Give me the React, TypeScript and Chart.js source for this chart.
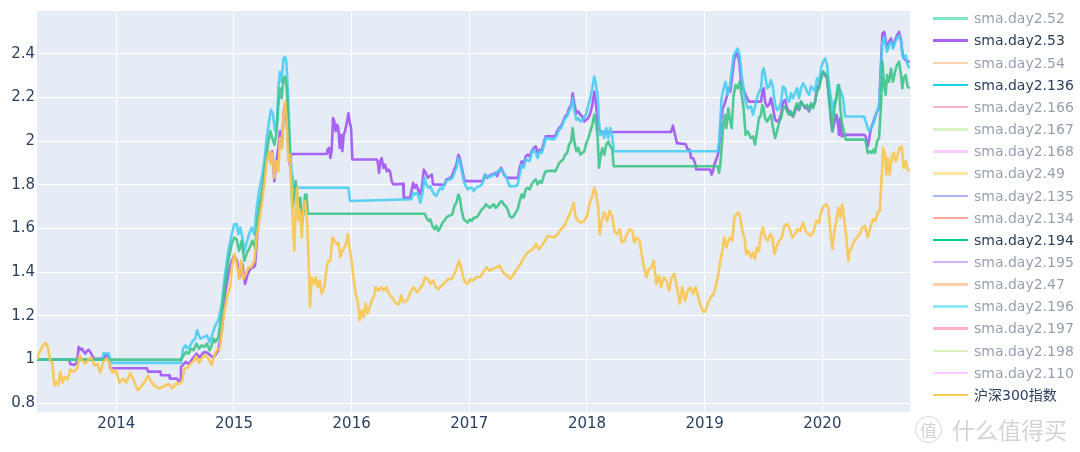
import React, { useEffect, useRef } from "react";
import { Chart, registerables } from "chart.js";

Chart.register(...registerables);

// x values are decimal years, y values are normalised net value
const hs300: [number, number][] = [
  [2013.326,1.0],[2013.349,1.035],[2013.377,1.065],[2013.397,1.076],[2013.417,1.06],[2013.439,0.994],[2013.456,0.985],[2013.473,0.883],[2013.490,0.898],[2013.507,0.883],[2013.524,0.944],[2013.541,0.894],[2013.564,0.921],[2013.587,0.909],[2013.609,0.954],[2013.638,0.944],[2013.666,0.959],[2013.689,1.02],[2013.711,0.994],[2013.740,0.982],[2013.768,1.004],[2013.788,1.009],[2013.813,0.973],[2013.836,0.982],[2013.864,0.939],[2013.887,0.989],[2013.921,1.004],[2013.944,0.982],[2013.966,0.939],[2013.995,0.951],[2014.028,0.894],[2014.057,0.913],[2014.085,0.894],[2014.119,0.939],[2014.148,0.906],[2014.182,0.86],[2014.210,0.876],[2014.238,0.894],[2014.269,0.927],[2014.301,0.894],[2014.334,0.876],[2014.368,0.868],[2014.408,0.879],[2014.448,0.888],[2014.476,0.868],[2014.510,0.891],[2014.539,0.888],[2014.561,0.906],[2014.578,0.959],[2014.606,0.964],[2014.635,0.982],[2014.658,0.994],[2014.677,1.015],[2014.703,0.985],[2014.731,1.009],[2014.759,1.02],[2014.788,1.0],[2014.810,0.974],[2014.833,1.02],
  [2014.853,1.043],[2014.881,1.05],[2014.901,1.149],[2014.924,1.24],[2014.947,1.30],[2014.966,1.33],[2014.986,1.437],[2015.003,1.483],[2015.023,1.437],[2015.043,1.369],[2015.060,1.452],[2015.080,1.369],[2015.100,1.392],[2015.122,1.422],[2015.145,1.422],[2015.173,1.452],[2015.193,1.559],[2015.213,1.635],[2015.236,1.711],[2015.258,1.802],[2015.278,1.908],[2015.298,1.954],[2015.315,1.893],[2015.326,1.947],[2015.343,1.832],[2015.360,1.908],[2015.377,1.862],[2015.391,2.014],[2015.406,1.969],[2015.423,2.136],[2015.434,2.181],[2015.448,2.09],[2015.462,1.908],[2015.476,1.938],[2015.491,1.756],[2015.502,1.589],[2015.513,1.498],[2015.525,1.695],[2015.536,1.787],[2015.547,1.635],[2015.561,1.68],[2015.576,1.559],[2015.590,1.695],[2015.604,1.726],[2015.618,1.665],[2015.632,1.483],[2015.646,1.24],[2015.660,1.377],[2015.678,1.346],[2015.694,1.377],[2015.712,1.331],[2015.729,1.362],[2015.745,1.301],[2015.768,1.331],[2015.788,1.422],[2015.802,1.452],[2015.819,1.452],[2015.836,1.559],[2015.853,1.544],[2015.870,1.529],[2015.887,1.536],[2015.904,1.468],[2015.921,1.498],[2015.938,1.513],[2015.955,1.536],[2015.966,1.574],[2015.983,1.513],[2016.000,1.452],[2016.018,1.362],[2016.034,1.301],[2016.051,1.27],[2016.068,1.179],[2016.085,1.225],[2016.102,1.194],[2016.119,1.255],[2016.136,1.21],[2016.153,1.24],[2016.170,1.27],[2016.187,1.286],[2016.204,1.331],[2016.227,1.316],[2016.250,1.331],[2016.272,1.316],[2016.295,1.331],[2016.318,1.301],[2016.340,1.286],
  [2016.352,1.278],[2016.380,1.255],[2016.403,1.255],[2016.420,1.293],[2016.443,1.263],[2016.471,1.27],[2016.499,1.308],[2016.528,1.331],[2016.556,1.308],[2016.579,1.323],[2016.607,1.346],[2016.624,1.377],[2016.647,1.369],[2016.669,1.346],[2016.692,1.362],[2016.715,1.331],[2016.737,1.323],[2016.766,1.339],[2016.794,1.354],[2016.822,1.369],[2016.851,1.369],[2016.873,1.392],[2016.896,1.422],[2016.913,1.453],[2016.930,1.422],[2016.947,1.377],[2016.964,1.354],[2016.987,1.346],[2017.009,1.369],[2017.032,1.362],[2017.060,1.377],[2017.089,1.377],[2017.117,1.399],[2017.145,1.422],[2017.174,1.407],[2017.202,1.415],[2017.230,1.422],[2017.258,1.43],[2017.287,1.399],[2017.321,1.384],[2017.349,1.369],[2017.377,1.392],[2017.406,1.415],[2017.434,1.437],[2017.457,1.46],[2017.485,1.483],[2017.513,1.498],[2017.542,1.506],[2017.565,1.529],[2017.593,1.506],[2017.615,1.521],[2017.644,1.544],[2017.666,1.566],[2017.695,1.562],[2017.723,1.559],[2017.751,1.574],[2017.780,1.597],[2017.808,1.612],[2017.825,1.635],[2017.853,1.665],
  [2017.870,1.69],[2017.887,1.718],[2017.904,1.65],[2017.926,1.635],[2017.949,1.627],[2017.977,1.635],[2018.000,1.657],[2018.023,1.718],[2018.045,1.749],[2018.062,1.787],[2018.079,1.756],[2018.096,1.695],[2018.108,1.574],[2018.125,1.635],[2018.147,1.673],[2018.170,1.635],[2018.193,1.68],[2018.215,1.657],[2018.232,1.589],[2018.255,1.574],[2018.278,1.597],[2018.295,1.536],[2018.317,1.544],[2018.340,1.574],[2018.363,1.597],[2018.385,1.589],[2018.402,1.536],[2018.425,1.559],[2018.448,1.544],[2018.465,1.483],[2018.482,1.43],[2018.504,1.377],[2018.527,1.415],[2018.550,1.422],[2018.567,1.452],[2018.589,1.346],[2018.612,1.384],[2018.629,1.331],[2018.652,1.377],[2018.674,1.362],[2018.697,1.316],[2018.719,1.377],[2018.742,1.392],[2018.765,1.331],[2018.788,1.255],[2018.810,1.331],[2018.833,1.27],[2018.856,1.316],[2018.878,1.331],[2018.901,1.301],[2018.924,1.331],[2018.946,1.286],[2018.969,1.24],[2018.992,1.217],[2019.008,1.225],[2019.031,1.263],[2019.054,1.286],[2019.077,1.301],[2019.099,1.346],[2019.116,1.392],[2019.133,1.453],[2019.150,1.498],[2019.167,1.559],[2019.184,1.513],[2019.201,1.544],[2019.218,1.559],[2019.235,1.544],[2019.252,1.65],[2019.269,1.665],[2019.286,1.673],[2019.303,1.65],[2019.320,1.589],[2019.337,1.559],[2019.354,1.483],[2019.371,1.498],
  [2019.394,1.468],[2019.411,1.491],[2019.428,1.46],[2019.445,1.513],[2019.462,1.498],[2019.479,1.574],[2019.496,1.604],[2019.513,1.559],[2019.536,1.544],[2019.558,1.574],[2019.575,1.559],[2019.592,1.483],[2019.609,1.513],[2019.632,1.544],[2019.655,1.559],[2019.677,1.612],[2019.700,1.62],[2019.723,1.597],[2019.745,1.559],[2019.768,1.574],[2019.791,1.597],[2019.813,1.589],[2019.836,1.627],[2019.859,1.589],[2019.881,1.574],[2019.904,1.567],[2019.927,1.589],[2019.949,1.635],[2019.972,1.627],[2019.989,1.673],[2020.011,1.703],[2020.034,1.711],[2020.051,1.695],[2020.068,1.589],[2020.085,1.506],[2020.102,1.589],[2020.119,1.635],[2020.136,1.695],[2020.153,1.65],[2020.170,1.711],[2020.187,1.635],[2020.204,1.559],[2020.221,1.453],[2020.232,1.498],[2020.249,1.513],[2020.272,1.544],[2020.295,1.559],[2020.317,1.574],[2020.340,1.604],[2020.363,1.612],[2020.385,1.559],[2020.408,1.604],[2020.431,1.642],[2020.453,1.635],[2020.470,1.673],[2020.487,1.68],[2020.504,1.832],[2020.516,1.969],[2020.533,1.938],[2020.544,1.847],[2020.555,1.923],[2020.572,1.847],[2020.589,1.923],[2020.606,1.947],[2020.623,1.908],[2020.640,1.938],[2020.657,1.969],[2020.674,1.976],[2020.691,1.878],[2020.708,1.908],[2020.725,1.87],[2020.742,1.862]
];

const sma53: [number, number][] = [
  [2013.326,1.0],[2013.600,1.0],[2013.609,0.98],[2013.640,0.975],[2013.666,0.985],[2013.680,1.058],[2013.694,1.045],[2013.708,1.05],[2013.723,1.035],[2013.737,1.027],[2013.751,1.04],[2013.765,1.045],[2013.779,1.035],[2013.793,1.02],[2013.810,1.004],[2013.893,1.004],[2013.907,1.025],[2013.921,1.015],[2013.935,1.008],[2013.950,0.96],[2014.261,0.96],[2014.270,0.945],[2014.374,0.945],[2014.380,0.928],[2014.450,0.928],[2014.455,0.913],[2014.516,0.913],[2014.525,0.903],[2014.548,0.903],
  [2014.550,0.967],[2014.590,0.99],[2014.615,0.98],[2014.635,0.995],[2014.657,1.01],[2014.680,1.027],[2014.708,1.01],[2014.731,1.027],[2014.754,1.035],[2014.776,1.03],[2014.799,1.02],[2014.822,1.01],[2014.839,1.02],
  [2014.867,1.043],[2014.896,1.134],[2014.924,1.301],[2014.952,1.392],[2014.981,1.452],[2015.003,1.475],[2015.026,1.452],[2015.049,1.377],[2015.071,1.437],[2015.094,1.346],[2015.117,1.392],[2015.139,1.415],[2015.162,1.422],[2015.179,1.43],[2015.202,1.604],[2015.224,1.695],[2015.247,1.787],[2015.270,1.908],[2015.292,1.954],[2015.309,1.908],[2015.326,1.954],[2015.343,1.817],[2015.360,1.908],[2015.377,1.969],[2015.391,2.045],[2015.406,1.969],[2015.423,2.136],[2015.434,2.166],[2015.448,2.09],[2015.462,1.969],[2015.474,1.893],[2015.485,1.938],[2015.496,1.941],[2015.788,1.941],[2015.796,1.961],[2015.808,1.969],[2015.819,1.923],[2015.830,1.954],[2015.842,2.106],[2015.853,2.09],[2015.864,2.045],[2015.876,2.075],[2015.887,2.06],[2015.898,1.969],[2015.910,2.029],[2015.921,1.954],[2015.932,2.029],[2015.944,2.045],[2015.961,2.09],[2015.972,2.128],[2015.983,2.09],[2015.995,2.06],[2016.006,1.916],[2016.213,1.916],[2016.221,1.908],[2016.233,1.855],[2016.244,1.908],[2016.255,1.923],[2016.270,1.878],[2016.284,1.893],[2016.298,1.862],[2016.312,1.87],[2016.326,1.862],[2016.340,1.817],[2016.355,1.802],
  [2016.437,1.805],[2016.443,1.741],[2016.494,1.741],[2016.508,1.771],[2016.522,1.809],[2016.536,1.786],[2016.550,1.80],[2016.564,1.779],[2016.579,1.756],[2016.596,1.786],[2016.613,1.87],[2016.630,1.855],[2016.647,1.832],[2016.664,1.84],[2016.681,1.847],[2016.692,1.802],[2016.791,1.80],[2016.805,1.825],[2016.839,1.832],[2016.856,1.847],[2016.873,1.87],[2016.890,1.893],[2016.907,1.938],[2016.919,1.923],[2016.936,1.878],[2016.953,1.832],[2016.964,1.817],[2017.117,1.817],[2017.134,1.847],[2017.151,1.832],[2017.168,1.84],[2017.185,1.847],[2017.202,1.847],[2017.219,1.855],[2017.236,1.84],[2017.253,1.862],[2017.270,1.878],[2017.287,1.855],[2017.304,1.84],[2017.321,1.832],[2017.414,1.832],[2017.428,1.878],[2017.445,1.908],[2017.462,1.893],[2017.479,1.93],[2017.496,1.938],[2017.513,1.93],[2017.530,1.954],[2017.547,1.969],[2017.564,1.976],[2017.581,1.946],[2017.598,1.961],[2017.615,1.954],[2017.632,1.991],[2017.649,2.022],[2017.729,2.022],[2017.746,2.045],[2017.763,2.06],[2017.780,2.068],[2017.797,2.09],[2017.814,2.113],[2017.831,2.121],[2017.848,2.151],[2017.865,2.166],
  [2017.878,2.219],[2017.892,2.174],[2017.909,2.128],[2017.926,2.136],[2017.943,2.121],[2017.960,2.113],[2017.977,2.09],[2017.994,2.098],[2018.011,2.106],[2018.028,2.128],[2018.045,2.166],[2018.062,2.227],[2018.074,2.181],[2018.085,2.121],[2018.096,2.075],[2018.108,2.045],[2018.119,2.042],[2018.714,2.042],[2018.731,2.071],[2018.748,2.029],[2018.765,1.991],[2018.839,1.986],[2018.856,1.961],[2018.873,1.961],[2018.884,1.923],[2018.901,1.923],[2018.918,1.90],[2018.929,1.87],[2019.048,1.87],[2019.059,1.847],[2019.071,1.862],[2019.082,1.893],[2019.099,1.916],[2019.116,1.946],[2019.127,1.999],[2019.139,2.09],[2019.153,2.151],[2019.167,2.166],[2019.184,2.197],[2019.201,2.242],[2019.218,2.227],[2019.235,2.303],[2019.252,2.379],[2019.269,2.402],[2019.280,2.394],[2019.295,2.364],[2019.309,2.272],[2019.326,2.242],[2019.343,2.219],[2019.360,2.197],[2019.377,2.181],
  [2019.479,2.181],[2019.490,2.227],[2019.502,2.242],[2019.513,2.181],[2019.530,2.159],[2019.547,2.166],[2019.564,2.197],[2019.581,2.151],[2019.598,2.098],[2019.615,2.09],[2019.632,2.098],[2019.649,2.121],[2019.666,2.181],[2019.683,2.189],[2019.700,2.151],[2019.717,2.136],[2019.734,2.121],[2019.751,2.113],[2019.768,2.136],[2019.785,2.166],[2019.802,2.143],[2019.819,2.181],[2019.836,2.166],[2019.853,2.151],[2019.870,2.159],[2019.887,2.136],[2019.904,2.166],[2019.921,2.159],[2019.938,2.181],[2019.955,2.242],[2019.972,2.257],[2019.989,2.288],[2020.006,2.318],[2020.023,2.303],[2020.040,2.288],[2020.057,2.197],[2020.074,2.09],[2020.085,2.045],[2020.102,2.083],[2020.119,2.121],[2020.131,2.09],[2020.142,2.029],[2020.153,2.106],[2020.165,2.022],[2020.193,2.029],[2020.354,2.029],[2020.369,2.022],[2020.385,1.976],[2020.397,2.007],[2020.414,2.06],[2020.431,2.083],[2020.448,2.113],[2020.465,2.136],[2020.482,2.151],[2020.499,2.364],[2020.510,2.493],[2020.527,2.50],[2020.538,2.462],[2020.550,2.424],[2020.567,2.455],[2020.584,2.470],[2020.601,2.432],[2020.618,2.462],[2020.635,2.485],[2020.652,2.50],[2020.669,2.462],[2020.680,2.409],[2020.691,2.379],[2020.708,2.371],[2020.725,2.364],[2020.742,2.364]
];

const sma136: [number, number][] = [
  [2013.326,1.0],[2013.880,1.0],[2013.893,1.03],[2013.910,1.025],[2013.935,1.03],[2013.952,0.985],[2014.550,0.985],
  [2014.567,1.05],[2014.587,1.065],[2014.606,1.05],[2014.629,1.065],[2014.652,1.088],[2014.672,1.096],[2014.686,1.134],[2014.714,1.096],[2014.743,1.103],[2014.771,1.111],[2014.793,1.08],[2014.822,1.126],[2014.842,1.156],
  [2014.867,1.179],[2014.896,1.255],[2014.924,1.392],[2014.952,1.498],[2014.981,1.574],[2015.003,1.62],[2015.023,1.62],[2015.037,1.574],[2015.054,1.604],[2015.071,1.559],[2015.088,1.498],[2015.108,1.536],[2015.128,1.574],[2015.151,1.604],[2015.173,1.574],[2015.193,1.695],[2015.213,1.771],[2015.236,1.832],[2015.258,1.908],[2015.278,2.014],[2015.298,2.09],[2015.315,2.144],[2015.332,2.121],[2015.349,2.045],[2015.366,2.09],[2015.377,2.242],[2015.391,2.318],[2015.406,2.272],[2015.420,2.379],[2015.434,2.386],[2015.445,2.364],[2015.457,2.242],[2015.468,2.09],[2015.479,1.938],[2015.491,1.862],[2015.502,1.817],[2015.513,1.787],[2015.972,1.787],[2015.986,1.726],
  [2016.508,1.734],[2016.522,1.764],[2016.539,1.756],[2016.556,1.764],[2016.573,1.741],[2016.584,1.718],[2016.601,1.756],[2016.618,1.832],[2016.635,1.802],[2016.652,1.786],[2016.669,1.794],[2016.686,1.771],[2016.703,1.756],[2016.720,1.749],[2016.737,1.771],[2016.754,1.786],[2016.771,1.779],[2016.788,1.802],[2016.805,1.817],[2016.822,1.825],[2016.839,1.825],[2016.856,1.832],[2016.873,1.855],[2016.890,1.878],[2016.907,1.923],[2016.919,1.908],[2016.936,1.862],[2016.953,1.817],[2016.970,1.794],[2016.987,1.779],[2017.004,1.787],[2017.021,1.787],[2017.038,1.771],[2017.055,1.786],[2017.072,1.79],[2017.089,1.794],[2017.106,1.802],[2017.123,1.832],[2017.140,1.847],[2017.157,1.832],[2017.174,1.84],[2017.191,1.84],[2017.208,1.847],[2017.225,1.85],[2017.242,1.862],[2017.258,1.87],[2017.275,1.87],[2017.292,1.855],[2017.309,1.84],[2017.326,1.817],[2017.343,1.794],[2017.394,1.794],[2017.411,1.802],[2017.428,1.847],[2017.445,1.893],[2017.462,1.878],[2017.479,1.916],[2017.513,1.908],[2017.530,1.946],[2017.547,1.961],[2017.564,1.946],[2017.581,1.923],[2017.598,1.954],[2017.615,1.946],[2017.632,1.976],[2017.649,2.014],[2017.717,2.007],[2017.729,2.014],[2017.746,2.029],[2017.763,2.052],[2017.780,2.06],[2017.797,2.083],[2017.814,2.106],[2017.831,2.113],[2017.848,2.136],[2017.865,2.159],
  [2017.878,2.197],[2017.892,2.143],[2017.909,2.098],[2017.926,2.106],[2017.943,2.09],[2017.960,2.098],[2017.977,2.106],[2017.994,2.128],[2018.011,2.166],[2018.028,2.197],[2018.045,2.242],[2018.062,2.296],[2018.074,2.265],[2018.091,2.212],[2018.102,2.09],[2018.113,2.029],[2018.130,2.045],[2018.147,2.014],[2018.164,2.06],[2018.181,2.014],[2018.198,2.06],[2018.215,2.022],[2018.227,1.954],[2019.110,1.954],[2019.122,1.999],[2019.133,2.09],[2019.144,2.197],[2019.161,2.242],[2019.178,2.272],[2019.195,2.212],[2019.212,2.242],[2019.229,2.318],[2019.246,2.394],[2019.263,2.409],[2019.280,2.424],[2019.297,2.394],[2019.314,2.303],[2019.331,2.242],[2019.348,2.181],[2019.365,2.151],
  [2019.394,2.159],[2019.411,2.121],[2019.428,2.159],[2019.445,2.197],[2019.462,2.227],[2019.479,2.242],[2019.490,2.318],[2019.502,2.333],[2019.513,2.303],[2019.530,2.242],[2019.547,2.25],[2019.564,2.28],[2019.581,2.242],[2019.598,2.166],[2019.615,2.143],[2019.632,2.151],[2019.649,2.181],[2019.666,2.25],[2019.683,2.242],[2019.700,2.197],[2019.717,2.181],[2019.734,2.219],[2019.751,2.197],[2019.768,2.219],[2019.785,2.242],[2019.802,2.197],[2019.819,2.242],[2019.836,2.265],[2019.853,2.25],[2019.870,2.227],[2019.887,2.212],[2019.904,2.25],[2019.921,2.242],[2019.938,2.227],[2019.955,2.288],[2019.972,2.272],[2019.989,2.333],[2020.006,2.364],[2020.023,2.379],[2020.040,2.349],[2020.057,2.257],[2020.074,2.197],[2020.085,2.121],[2020.102,2.181],[2020.119,2.197],[2020.131,2.257],[2020.142,2.242],[2020.159,2.227],[2020.176,2.197],[2020.193,2.113],[2020.354,2.113],[2020.369,2.09],[2020.385,2.06],[2020.397,2.045],[2020.414,2.06],[2020.431,2.075],[2020.448,2.106],[2020.465,2.136],[2020.482,2.166],[2020.499,2.318],[2020.510,2.455],[2020.527,2.477],[2020.538,2.44],[2020.550,2.409],[2020.567,2.44],[2020.584,2.455],[2020.601,2.424],[2020.618,2.455],[2020.635,2.47],[2020.652,2.485],[2020.669,2.455],[2020.680,2.394],[2020.691,2.379],[2020.708,2.394],[2020.725,2.349],[2020.742,2.333]
];

const sma194: [number, number][] = [
  [2013.326,1.0],[2014.550,1.0],[2014.572,1.02],[2014.595,1.035],[2014.615,1.027],[2014.635,1.05],[2014.657,1.043],[2014.680,1.073],[2014.703,1.05],[2014.725,1.065],[2014.748,1.058],[2014.771,1.073],[2014.793,1.043],[2014.810,1.065],[2014.827,1.096],[2014.842,1.08],
  [2014.867,1.103],[2014.896,1.21],[2014.924,1.346],[2014.952,1.452],[2014.981,1.529],[2015.003,1.559],[2015.023,1.551],[2015.043,1.498],[2015.066,1.544],[2015.088,1.452],[2015.111,1.49],[2015.134,1.513],[2015.156,1.544],[2015.179,1.513],[2015.202,1.65],[2015.224,1.726],[2015.247,1.802],[2015.270,1.908],[2015.292,1.999],[2015.309,2.045],[2015.326,2.014],[2015.343,1.984],[2015.360,2.029],[2015.377,2.166],[2015.391,2.242],[2015.406,2.197],[2015.420,2.288],[2015.434,2.296],[2015.448,2.242],[2015.462,2.09],[2015.479,1.908],[2015.496,1.695],[2015.513,1.756],[2015.525,1.817],[2015.536,1.756],[2015.547,1.695],[2015.564,1.741],[2015.581,1.635],[2015.593,1.68],[2015.604,1.756],[2015.615,1.756],[2015.627,1.668],
  [2016.621,1.668],[2016.635,1.65],[2016.652,1.635],[2016.669,1.642],[2016.686,1.612],[2016.703,1.597],[2016.720,1.612],[2016.737,1.589],[2016.754,1.604],[2016.771,1.627],[2016.788,1.635],[2016.805,1.65],[2016.822,1.657],[2016.856,1.665],[2016.873,1.703],[2016.890,1.718],[2016.907,1.756],[2016.919,1.741],[2016.936,1.68],[2016.953,1.642],[2016.970,1.635],[2016.987,1.627],[2017.004,1.642],[2017.021,1.635],[2017.038,1.65],[2017.055,1.65],[2017.072,1.657],[2017.089,1.673],[2017.106,1.688],[2017.123,1.695],[2017.140,1.711],[2017.157,1.703],[2017.174,1.695],[2017.191,1.703],[2017.208,1.711],[2017.225,1.695],[2017.242,1.703],[2017.258,1.718],[2017.275,1.726],[2017.292,1.711],[2017.309,1.703],[2017.326,1.688],[2017.343,1.657],[2017.360,1.65],[2017.377,1.657],[2017.394,1.673],[2017.411,1.688],[2017.428,1.726],[2017.445,1.756],[2017.462,1.741],[2017.479,1.779],[2017.496,1.787],[2017.513,1.779],[2017.530,1.802],[2017.547,1.817],[2017.564,1.825],[2017.581,1.802],[2017.598,1.817],[2017.615,1.809],[2017.632,1.84],[2017.649,1.862],[2017.706,1.865],[2017.729,1.862],[2017.746,1.878],[2017.763,1.90],[2017.780,1.908],[2017.797,1.916],[2017.814,1.938],[2017.831,1.946],[2017.848,1.984],[2017.865,1.999],
  [2017.878,2.06],[2017.892,1.999],[2017.909,1.954],[2017.926,1.969],[2017.943,1.938],[2017.960,1.946],[2017.977,1.954],[2017.994,1.991],[2018.011,2.014],[2018.028,2.045],[2018.045,2.075],[2018.062,2.121],[2018.079,2.075],[2018.091,2.014],[2018.102,1.878],[2018.113,1.923],[2018.130,1.969],[2018.147,1.938],[2018.164,1.984],[2018.181,1.999],[2018.198,1.976],[2018.215,1.961],[2018.227,1.885],[2019.110,1.885],[2019.122,1.855],[2019.133,1.893],[2019.144,1.969],[2019.156,2.06],[2019.173,2.121],[2019.184,2.06],[2019.201,2.151],[2019.212,2.106],[2019.229,2.06],[2019.246,2.212],[2019.263,2.257],[2019.280,2.242],[2019.297,2.272],[2019.314,2.212],[2019.331,2.151],[2019.348,2.029],[2019.365,2.045],
  [2019.394,2.014],[2019.411,2.022],[2019.428,1.984],[2019.445,2.045],[2019.462,2.106],[2019.479,2.121],[2019.490,2.166],[2019.502,2.151],[2019.513,2.106],[2019.530,2.09],[2019.547,2.106],[2019.564,2.121],[2019.581,2.06],[2019.598,2.014],[2019.615,2.045],[2019.632,2.083],[2019.649,2.106],[2019.666,2.151],[2019.683,2.159],[2019.700,2.136],[2019.717,2.121],[2019.734,2.136],[2019.751,2.113],[2019.768,2.151],[2019.785,2.174],[2019.802,2.143],[2019.819,2.181],[2019.836,2.166],[2019.853,2.159],[2019.870,2.166],[2019.887,2.143],[2019.904,2.174],[2019.921,2.151],[2019.938,2.181],[2019.955,2.227],[2019.972,2.242],[2019.989,2.288],[2020.006,2.318],[2020.023,2.311],[2020.040,2.296],[2020.057,2.197],[2020.074,2.106],[2020.085,2.045],[2020.102,2.151],[2020.119,2.197],[2020.131,2.242],[2020.142,2.257],[2020.153,2.151],[2020.165,2.09],[2020.182,2.045],[2020.199,2.007],[2020.354,2.007],[2020.369,1.999],[2020.385,1.946],[2020.402,1.954],[2020.419,1.946],[2020.436,1.961],[2020.448,1.946],[2020.465,1.999],[2020.482,2.014],[2020.499,2.166],[2020.510,2.364],[2020.527,2.242],[2020.538,2.212],[2020.550,2.303],[2020.567,2.272],[2020.584,2.333],[2020.601,2.272],[2020.618,2.318],[2020.635,2.349],[2020.652,2.364],[2020.669,2.303],[2020.680,2.242],[2020.691,2.288],[2020.708,2.303],[2020.725,2.25],[2020.742,2.242]
];

const legendNames = [
  "sma.day2.52","sma.day2.53","sma.day2.54","sma.day2.136","sma.day2.166","sma.day2.167",
  "sma.day2.168","sma.day2.49","sma.day2.135","sma.day2.134","sma.day2.194","sma.day2.195",
  "sma.day2.47","sma.day2.196","sma.day2.197","sma.day2.198","sma.day2.110","沪深300指数"
];
const legendVisible = ["sma.day2.53","sma.day2.136","sma.day2.194","沪深300指数"];
const palette = ["#636efa","#EF553B","#00cc96","#ab63fa","#FFA15A","#19d3f3","#FF6692","#B6E880","#FF97FF","#FECB52"];

const xTicks = [2014, 2015, 2016, 2017, 2018, 2019, 2020];
const yTicks = [0.8, 1.0, 1.2, 1.4, 1.6, 1.8, 2.0, 2.2, 2.4];
const X_RANGE = [2013.326, 2020.745];
const Y_RANGE = [0.76, 2.596];

const FONT = '"DejaVu Sans", "Noto Sans CJK SC", sans-serif';
const TEXT = "#2a3f5f";

const bgPlugin = {
  id: "plotBg",
  beforeDraw(chart: any) {
    const { ctx, chartArea } = chart;
    if (!chartArea) return;
    ctx.save();
    ctx.fillStyle = "#E5ECF6";
    ctx.fillRect(chartArea.left, chartArea.top, chartArea.right - chartArea.left, chartArea.bottom - chartArea.top);
    ctx.restore();
  },
};

const toXY = (arr: [number, number][]) => arr.map(([x, y]) => ({ x, y }));

export default function App() {
  const ref = useRef<HTMLCanvasElement | null>(null);

  useEffect(() => {
    if (!ref.current) return;
    const line = (label: string, data: [number, number][], color: string) => ({
      label,
      data: toXY(data),
      borderColor: color,
      backgroundColor: color,
      borderWidth: 2.6,
      pointRadius: 0,
      tension: 0,
      fill: false,
      borderJoinStyle: "round" as const,
    });
    const chart = new Chart(ref.current, {
      type: "line",
      data: {
        datasets: [
          line("沪深300指数", hs300, "rgba(250,198,80,0.92)"),
          line("sma.day2.194", sma194, "rgba(62,196,136,0.9)"),
          line("sma.day2.136", sma136, "rgba(72,206,242,0.9)"),
          line("sma.day2.53", sma53, "rgba(162,92,246,0.95)"),
        ],
      },
      options: {
        animation: false,
        responsive: true,
        maintainAspectRatio: false,
        layout: { padding: { left: 0, top: 9, right: 170, bottom: 0 } },
        plugins: { legend: { display: false }, tooltip: { enabled: false } },
        scales: {
          x: {
            type: "linear",
            min: X_RANGE[0],
            max: X_RANGE[1],
            afterBuildTicks: (s: any) => { s.ticks = xTicks.map((v) => ({ value: v })); },
            afterFit: (s: any) => { s.height = 40; },
            grid: { color: "#ffffff", lineWidth: 1, drawTicks: false },
            border: { display: false },
            ticks: {
              padding: 3,
              color: TEXT,
              font: { family: FONT, size: 15 },
              maxRotation: 0,
              autoSkip: false,
              callback: (v: any) => String(v),
            },
          },
          y: {
            type: "linear",
            min: Y_RANGE[0],
            max: Y_RANGE[1],
            afterBuildTicks: (s: any) => { s.ticks = yTicks.map((v) => ({ value: v })); },
            afterFit: (s: any) => { s.width = 37; },
            grid: { color: "#ffffff", lineWidth: 1, drawTicks: false },
            border: { display: false },
            ticks: {
              padding: 2,
              color: TEXT,
              font: { family: FONT, size: 15 },
              autoSkip: false,
              callback: (v: any) => String(Number(Number(v).toFixed(1))),
            },
          },
        },
      },
      plugins: [bgPlugin],
    });
    return () => chart.destroy();
  }, []);

  return (
    <div style={{ position: "fixed", left: 0, top: 0, width: 1080, height: 452, background: "#fff", overflow: "hidden" }}>
      <canvas ref={ref} style={{ position: "absolute", left: 0, top: 0, width: 1080, height: 452 }} />
      {legendNames.map((name, i) => {
        const vis = legendVisible.includes(name);
        const color = palette[(i + 2) % palette.length];
        const cy = 18.3 + 22.15 * i;
        return (
          <div key={name} style={{ position: "absolute", left: 933, top: cy - 11, height: 22, width: 147, opacity: vis ? 1 : 0.5, fontFamily: FONT, fontSize: 14, lineHeight: "22px", color: TEXT, whiteSpace: "nowrap" }}>
            <div style={{ position: "absolute", left: 0, top: 10, width: 35, height: 2.5, background: color }} />
            <span style={{ position: "absolute", left: 41, top: 0 }}>{name}</span>
          </div>
        );
      })}
      <div style={{ position: "absolute", left: 915, top: 416, width: 25, height: 25, borderRadius: "50%", border: "1.5px solid #d4d4d4", color: "#d4d4d4", fontFamily: '"Noto Sans CJK SC", sans-serif', fontSize: 17, lineHeight: "25px", textAlign: "center" }}>值</div>
      <div style={{ position: "absolute", left: 952, top: 414, color: "#d4d4d4", fontFamily: '"Noto Sans CJK SC", sans-serif', fontSize: 23, lineHeight: "30px", whiteSpace: "nowrap" }}>什么值得买</div>
    </div>
  );
}
